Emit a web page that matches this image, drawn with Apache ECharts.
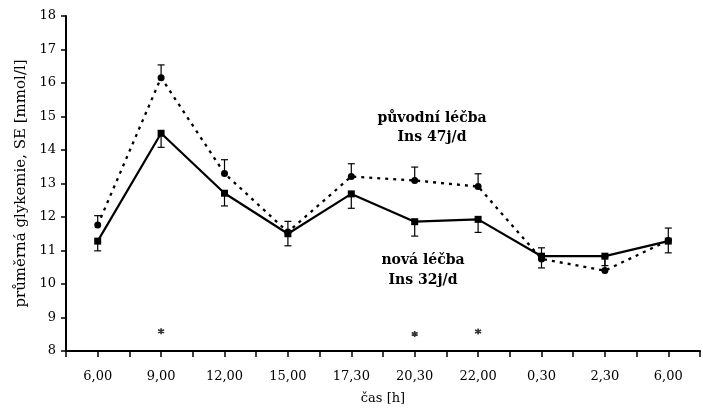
<!DOCTYPE html>
<html>
<head>
<meta charset="utf-8">
<script src="https://cdn.jsdelivr.net/npm/echarts@6/dist/echarts.min.js"></script>
<style>
  html, body { margin: 0; padding: 0; background: #fff; }
  #chart { width: 703px; height: 417px; }
</style>
</head>
<body>
<div id="chart"></div>
<script>
// time points of the day (h)
const categories = ['6,00', '9,00', '12,00', '15,00', '17,30', '20,30', '22,00', '0,30', '2,30', '6,00'];

// původní léčba (Ins 47j/d): mean glycaemia and standard error
const puvodni = [11.76, 16.16, 13.30, 11.55, 13.21, 13.09, 12.91, 10.75, 10.40, 11.30];
const puvodniSE = [0.28, 0.38, 0.41, 0.32, 0.38, 0.40, 0.38, 0.33, 0.40, 0.37];

// nová léčba (Ins 32j/d): mean glycaemia and standard error
const nova = [11.28, 14.50, 12.71, 11.50, 12.69, 11.86, 11.93, 10.83, 10.83, 11.28];
const novaSE = [0.29, 0.42, 0.38, 0.36, 0.43, 0.43, 0.39, 0.35, 0.28, 0.35];

// significance markers (category index, level)
const signifIdx = [1, 5, 6];
const signifLevel = [8.59, 8.51, 8.58];

const yTicks = [8, 9, 10, 11, 12, 13, 14, 15, 16, 17, 18];

const FONT = 'DejaVu Serif';

function pairs(vals) { return vals.map((v, i) => [i, v]); }

// vertical error bar with a cap; dir = +1 upward, -1 downward
function errorBars(vals, se, dir) {
  return {
    type: 'custom',
    silent: true,
    z: 1,
    data: vals.map((v, i) => [i, v, v + dir * se[i]]),
    renderItem: function (params, api) {
      const p0 = api.coord([api.value(0), api.value(1)]);
      const p1 = api.coord([api.value(0), api.value(2)]);
      const hw = 3.5;
      const style = { stroke: '#000', lineWidth: 1.2, fill: null };
      return {
        type: 'group',
        children: [
          { type: 'line', shape: { x1: p0[0], y1: p0[1], x2: p1[0], y2: p1[1] }, style: style },
          { type: 'line', shape: { x1: p1[0] - hw, y1: p1[1], x2: p1[0] + hw, y2: p1[1] }, style: style }
        ]
      };
    }
  };
}

const chart = echarts.init(document.getElementById('chart'), null, { renderer: 'canvas' });

chart.setOption({
  animation: false,
  backgroundColor: '#fff',
  grid: { left: 66, right: -10, top: 16, bottom: 66 },
  xAxis: {
    type: 'value',
    min: -0.5,
    max: 9.5,
    interval: 0.5,
    name: 'čas [h]',
    nameLocation: 'middle',
    nameGap: 41,
    nameTextStyle: { fontFamily: FONT, fontSize: 13, color: '#000' },
    axisLine: { onZero: false, lineStyle: { color: '#000', width: 2 } },
    axisTick: { show: true, inside: false, length: 6, lineStyle: { color: '#000', width: 1.5 } },
    axisLabel: {
      margin: 19,
      fontFamily: FONT,
      fontSize: 13,
      color: '#000',
      formatter: function (v) {
        return Number.isInteger(v) ? categories[v] : '';
      }
    },
    splitLine: { show: false }
  },
  yAxis: {
    type: 'value',
    min: yTicks[0],
    max: yTicks[yTicks.length - 1],
    interval: 1,
    name: 'průměrná glykemie, SE [mmol/l]',
    nameLocation: 'middle',
    nameGap: 33,
    nameTextStyle: { fontFamily: FONT, fontSize: 15, color: '#000' },
    axisLine: { show: true, onZero: false, lineStyle: { color: '#000', width: 2 } },
    axisTick: { show: true, inside: false, length: 5, lineStyle: { color: '#000', width: 1.5 } },
    axisLabel: { margin: 10, fontFamily: FONT, fontSize: 13, color: '#000' },
    splitLine: { show: false }
  },
  series: [
    errorBars(puvodni, puvodniSE, 1),
    errorBars(nova, novaSE, -1),
    {
      name: 'původní léčba',
      type: 'line',
      data: pairs(puvodni),
      symbol: 'circle',
      symbolSize: 7,
      z: 3,
      lineStyle: { color: '#000', width: 2.3, type: [3, 5] },
      itemStyle: { color: '#000' }
    },
    {
      name: 'nová léčba',
      type: 'line',
      data: pairs(nova),
      symbol: 'rect',
      symbolSize: 7,
      z: 4,
      lineStyle: { color: '#000', width: 2.2 },
      itemStyle: { color: '#000' }
    },
    {
      name: 'signif',
      type: 'scatter',
      data: signifIdx.map((x, i) => [x, signifLevel[i]]),
      symbol: 'path://M5,0L5,10M0.7,2.5L9.3,7.5M9.3,2.5L0.7,7.5',
      symbolSize: 6,
      itemStyle: { color: '#000', borderColor: '#000', borderWidth: 1.6 },
      z: 2
    }
  ],
  graphic: [
    {
      type: 'text', x: 432, y: 109,
      style: { text: 'původní léčba\nIns 47j/d', textAlign: 'center', textVerticalAlign: 'top',
        font: 'bold 14px "DejaVu Serif"', fill: '#000', lineHeight: 19 }
    },
    {
      type: 'text', x: 423, y: 250,
      style: { text: 'nová léčba\nIns 32j/d', textAlign: 'center', textVerticalAlign: 'top',
        font: 'bold 14px "DejaVu Serif"', fill: '#000', lineHeight: 20 }
    }
  ]
});
</script>
</body>
</html>
